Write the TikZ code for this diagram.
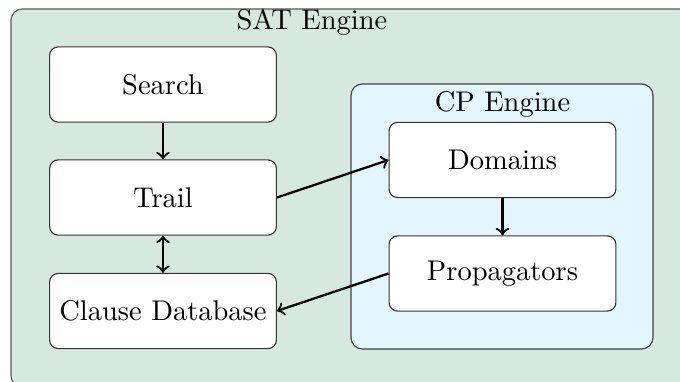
\documentclass[tikz,border=0pt]{standalone}
\usepackage{amsmath}
\usetikzlibrary{positioning}

\definecolor{satbg}{RGB}{214,233,224}
\definecolor{cpbg}{RGB}{227,246,253}

\begin{document}
\begin{tikzpicture}[x=0.351pt, y=0.351pt,
  blk/.style={draw=black!80, fill=white, rounded corners=3pt,
    minimum width=79.6pt, minimum height=26.4pt, inner sep=2pt},
  conn/.style={thick, ->}]
\useasboundingbox (0,0) rectangle (680,382);
\clip (0,0) rectangle (680,382);

\def\xl{163}
\def\xr{502.5}

\def\ya{297.5}
\def\yb{184.5}
\def\yc{71}
\def\yd{222}
\def\ye{108.5}

% engines
\draw[draw=black!65, fill=satbg, rounded corners=4pt] (11,-5) rectangle (691,373);
\node[anchor=base] (sat) at (312,352) {SAT Engine};
\draw[draw=black!75, fill=cpbg, rounded corners=4pt] (351,33) rectangle (653,298);
\node[anchor=base] (cp) at (\xr,270) {CP Engine};

\node[blk] (search) at (\xl, \ya) {Search};
\node[blk] (trail) at (\xl, \yb) {Trail};
\node[blk] (clause) at (\xl, \yc) {Clause Database};
\node[blk] (dom) at (\xr, \yd) {Domains};
\node[blk] (prop) at (\xr, \ye) {Propagators};

\draw[conn] (search) -- (trail);
\draw[thick, <->] (trail) -- (clause);
\draw[conn] (trail.east) -- (dom.west);
\draw[conn] (dom) -- (prop);
\draw[conn] (prop.west) -- (clause.east);

\end{tikzpicture}
\end{document}
